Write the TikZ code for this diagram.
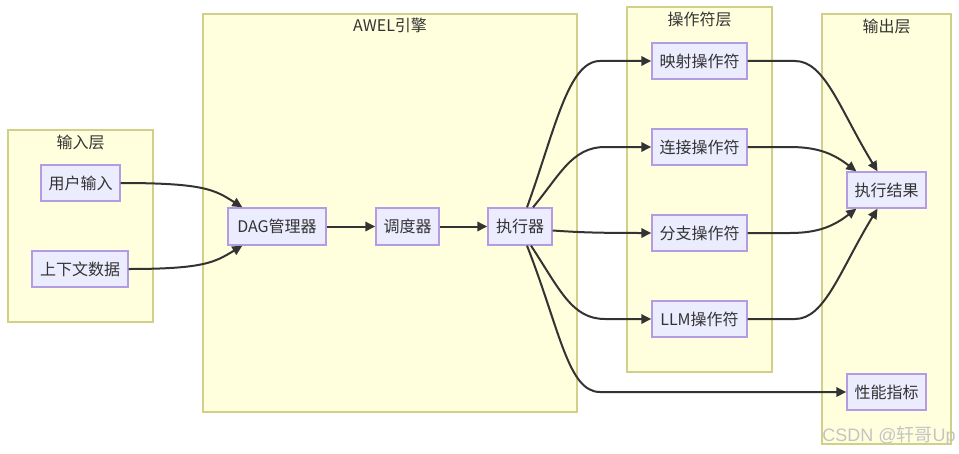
\documentclass[tikz,border=0pt]{standalone}
\usepackage{fontspec}
\setmainfont{Noto Sans CJK SC}
\newfontfamily\wmfont{Liberation Sans}
\newfontfamily\wmcjk{Noto Sans CJK SC}
\usetikzlibrary{arrows.meta,calc}
\definecolor{nodefill}{HTML}{ECECFF}
\definecolor{nodeline}{HTML}{B49CE4}
\definecolor{clfill}{HTML}{FFFFDE}
\definecolor{clline}{HTML}{D0D088}
\definecolor{ink}{HTML}{333333}
\definecolor{wm}{HTML}{C4C4C4}
\tikzset{
  cluster/.style={draw=clline, fill=clfill, line width=1.1pt},
  box/.style={draw=nodeline, fill=nodefill, line width=1pt, inner sep=0pt, text=ink, font=\fontsize{12pt}{14pt}\selectfont},
  ctitle/.style={text=ink, font=\fontsize{12pt}{14pt}\selectfont, inner sep=0pt},
  edge/.style={draw=ink, line width=1.5pt, -{Triangle[length=7.5pt,width=7pt]}},
}
\begin{document}
\begin{tikzpicture}[x=0.75pt,y=-0.75pt]
\useasboundingbox[fill=white] (0,0) rectangle (959,453);
% clusters
\draw[cluster] (8,130) rectangle (153,322);
\draw[cluster] (203,14) rectangle (577,412);
\draw[cluster] (627,7) rectangle (772,372);
\draw[cluster] (822,14) rectangle (951,444);
\node[ctitle] (t1) at (80.5,142) {输入层};
\node[ctitle] (t2) at (390,25) {AWEL引擎};
\node[ctitle] (t3) at (699.5,19) {操作符层};
\node[ctitle] (t4) at (886.5,26) {输出层};
% nodes
\node[box, minimum height=36*0.75pt, minimum width=79*0.75pt] (u) at (80.5,183) {用户输入};
\node[box, minimum height=36*0.75pt, minimum width=96*0.75pt] (c) at (80,269) {上下文数据};
\node[box, minimum height=37*0.75pt, minimum width=98*0.75pt] (dag) at (277,226.5) {DAG管理器};
\node[box, minimum height=37*0.75pt, minimum width=63*0.75pt] (sch) at (407.5,226.5) {调度器};
\node[box, minimum height=37*0.75pt, minimum width=64*0.75pt] (exe) at (520,226.5) {执行器};
\node[box, minimum height=36*0.75pt, minimum width=95*0.75pt] (m1) at (699.5,61) {映射操作符};
\node[box, minimum height=36*0.75pt, minimum width=95*0.75pt] (m2) at (699.5,147) {连接操作符};
\node[box, minimum height=36*0.75pt, minimum width=95*0.75pt] (m3) at (699.5,233) {分支操作符};
\node[box, minimum height=36*0.75pt, minimum width=95*0.75pt] (m4) at (699.5,319) {LLM操作符};
\node[box, minimum height=36*0.75pt, minimum width=79*0.75pt] (res) at (886.5,190) {执行结果};
\node[box, minimum height=36*0.75pt, minimum width=79*0.75pt] (perf) at (886.5,392) {性能指标};
% edges
\draw[edge] (u.east) .. controls (205,183) and (215,190) .. ($(dag.north west)+(15,0)$);
\draw[edge] (c.east) .. controls (205,269) and (215,262) .. ($(dag.south west)+(15,0)$);
\draw[edge] (dag) -- (sch);
\draw[edge] (sch) -- (exe);
\draw[edge] ($(exe.north)+(7,0)$) .. controls (555,130) and (568,61) .. (600,61) -- (m1.west);
\draw[edge] ($(exe.north)+(13,0)$) .. controls (560,175) and (572,147) .. (605,147) -- (m2.west);
\draw[edge] ($(exe.east)+(0,4)$) .. controls (575,232) and (590,233) .. (m3.west);
\draw[edge] ($(exe.south)+(11,0)$) .. controls (560,290) and (572,319) .. (605,319) -- (m4.west);
\draw[edge] ($(exe.south)+(7,0)$) .. controls (560,330) and (568,392) .. (600,392) -- (perf.west);
\draw[edge] (m1.east) -- (795,61) .. controls (825,61) and (840,110) .. ($(res.north)+(-9,0)$);
\draw[edge] (m2.east) -- (790,147) .. controls (820,147) and (835,155) .. ($(res.north west)+(10,0)$);
\draw[edge] (m3.east) -- (790,233) .. controls (820,233) and (835,225) .. ($(res.south west)+(10,0)$);
\draw[edge] (m4.east) -- (795,319) .. controls (825,319) and (840,270) .. ($(res.south)+(-9,0)$);
% watermark
\node[text=wm, font=\fontsize{13.5pt}{15pt}\selectfont, anchor=east, inner sep=0pt] (wmk) at (956,436) {\wmfont CSDN @\wmcjk 轩哥\wmfont Up};
\end{tikzpicture}
\end{document}
